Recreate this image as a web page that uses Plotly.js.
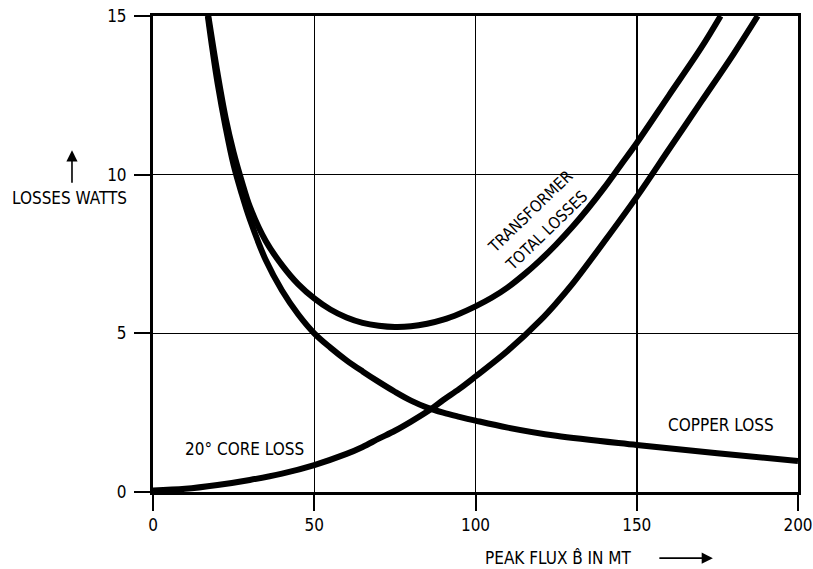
<!DOCTYPE html>
<html>
<head>
<meta charset="utf-8">
<script src="https://cdn.plot.ly/plotly-3.0.1.min.js"></script>
<style>html,body{margin:0;padding:0;background:#fff;}#chart{width:813px;height:569px;}</style>
</head>
<body>
<div id="chart"></div>
<script>
// Copper loss (W) vs peak flux (mT)
const copperX = [17, 18.5, 20, 22.5, 25, 27.5, 30, 35, 40, 45, 50, 55, 60, 65, 70, 75, 80, 85, 90, 95, 100, 110, 125, 150, 175, 200];
const copperY = [15, 13.9, 12.9, 11.5, 10.3, 9.4, 8.6, 7.3, 6.35, 5.6, 5.0, 4.55, 4.15, 3.8, 3.47, 3.16, 2.88, 2.66, 2.5, 2.37, 2.25, 2.03, 1.77, 1.48, 1.22, 0.98];
// 20° core loss
const coreX = [0, 10, 20, 30, 40, 50, 60, 65, 70, 75, 80, 86, 90, 95, 100, 110, 120, 125, 130, 140, 150, 160, 170, 180, 187.5];
const coreY = [0.05, 0.1, 0.22, 0.38, 0.58, 0.85, 1.2, 1.42, 1.68, 1.93, 2.22, 2.6, 2.9, 3.25, 3.64, 4.45, 5.4, 5.95, 6.55, 7.9, 9.3, 10.8, 12.3, 13.8, 15];
// Transformer total losses
const totalX = [17, 20, 22.5, 25, 27.5, 30, 35, 40, 45, 50, 55, 60, 65, 70, 75, 80, 85, 90, 95, 100, 105, 110, 115, 120, 125, 130, 135, 140, 145, 150, 160, 170, 176];
const totalY = [15.1, 13.2, 11.8, 10.7, 9.8, 9.0, 7.9, 7.15, 6.55, 6.1, 5.75, 5.5, 5.33, 5.24, 5.2, 5.22, 5.3, 5.43, 5.62, 5.85, 6.12, 6.45, 6.85, 7.3, 7.8, 8.35, 8.95, 9.6, 10.3, 11.0, 12.5, 14.0, 15];

const xTicks = [0, 50, 100, 150, 200];
const yTicks = [0, 5, 10, 15];

const FONT = "'Liberation Sans Narrow', 'Arial Narrow', 'DejaVu Sans Condensed', sans-serif";
const lineStyle = {color: '#000', width: 6, shape: 'spline', smoothing: 1.0};

const traces = [
  {x: copperX, y: copperY, mode: 'lines', line: lineStyle, name: 'COPPER LOSS'},
  {x: coreX, y: coreY, mode: 'lines', line: lineStyle, name: '20° CORE LOSS'},
  {x: totalX, y: totalY, mode: 'lines', line: lineStyle, name: 'TRANSFORMER TOTAL LOSSES'}
];

const axisCommon = {
  showline: true, mirror: true, linecolor: '#000', linewidth: 3,
  showgrid: true, gridcolor: '#000', gridwidth: 1.5,
  zeroline: false, ticks: 'outside', ticklen: 16, tickwidth: 2, tickcolor: '#000',
  ticklabeloverflow: 'allow',
  tickfont: {family: FONT, size: 17, color: '#000'}
};

const layout = {
  width: 813, height: 569,
  margin: {l: 153, r: 15, t: 16, b: 77},
  paper_bgcolor: '#fff', plot_bgcolor: '#fff',
  showlegend: false,
  font: {family: FONT, color: '#000'},
  xaxis: Object.assign({}, axisCommon, {range: [0, 200], tickvals: xTicks, ticktext: xTicks.map(String)}),
  yaxis: Object.assign({}, axisCommon, {range: [0, 15], tickvals: yTicks, ticktext: yTicks.map(String), ticklabelstandoff: 4}),
  annotations: [
    {xref: 'x', yref: 'y', x: 117, y: 8.85, text: 'TRANSFORMER', showarrow: false, textangle: -44, font: {family: FONT, size: 16, color: '#000'}},
    {xref: 'x', yref: 'y', x: 122, y: 8.25, text: 'TOTAL LOSSES', showarrow: false, textangle: -44, font: {family: FONT, size: 16, color: '#000'}},
    {xref: 'x', yref: 'y', x: 28.5, y: 1.35, text: '20° CORE LOSS', showarrow: false, font: {family: FONT, size: 17, color: '#000'}},
    {xref: 'x', yref: 'y', x: 176, y: 2.1, text: 'COPPER LOSS', showarrow: false, font: {family: FONT, size: 17, color: '#000'}},
    {xref: 'paper', yref: 'paper', x: -0.130, y: 0.617, xanchor: 'center', yanchor: 'middle', text: 'LOSSES WATTS', showarrow: false, font: {family: FONT, size: 17, color: '#000'}},
    {xref: 'paper', yref: 'paper', x: -0.1256, y: 0.718, ax: 0, ay: 34, text: '', showarrow: true, arrowhead: 2, arrowsize: 1.4, arrowwidth: 1.6, arrowcolor: '#000'},
    {xref: 'paper', yref: 'paper', x: 0.629, y: -0.139, xanchor: 'center', yanchor: 'middle', text: 'PEAK FLUX B\u0302 IN MT', showarrow: false, font: {family: FONT, size: 17, color: '#000'}},
    {xref: 'paper', yref: 'paper', x: 0.868, y: -0.139, ax: -55, ay: 0, text: '', showarrow: true, arrowhead: 2, arrowsize: 1.4, arrowwidth: 1.6, arrowcolor: '#000'}
  ]
};

Plotly.newPlot('chart', traces, layout, {displayModeBar: false, staticPlot: true});
</script>
</body>
</html>
